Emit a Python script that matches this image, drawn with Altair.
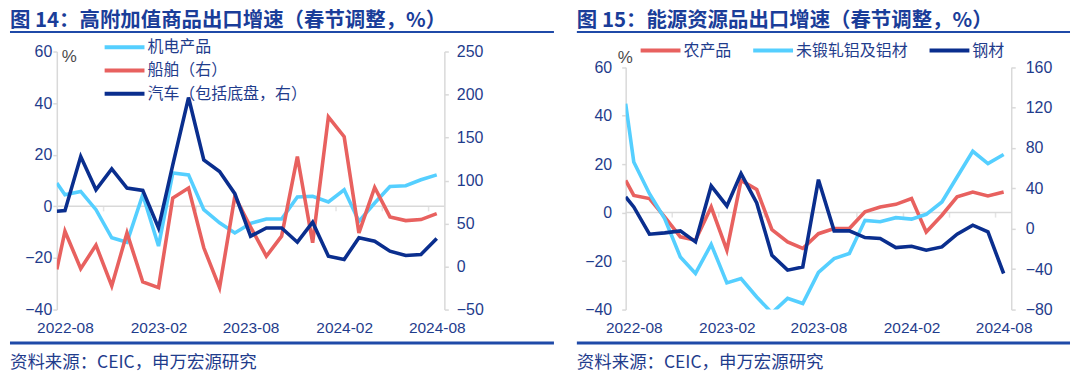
import altair as alt
import pandas as pd

# ---------------- data ----------------
# first entry is the value read at the left edge of the plot (mid-July 2022)
MONTHS = ["2022-07-16T00:00:00"] + pd.date_range("2022-08-01", "2024-08-01", freq="MS").strftime(
    "%Y-%m-%dT00:00:00").tolist()

# Chart 14 (left axis: 机电产品; right axis: 船舶, 汽车)
L_NAMES = ["机电产品", "船舶（右）", "汽车（包括底盘，右）"]
JIDIAN = [9.0, 4.5, 5.8, -1.3, -12.2, -13.9, 4.5, -15.4, 12.9, 12.2, -1.3, -6.4, -10.3,
          -6.6, -4.9, -4.9, 3.6, 3.9, 1.7, 6.4, -5.8, 1.3, 7.7, 8.0, 10.3, 12.2]
CHUANBO = [-3.3, 41.1, -2.5, 24.9, -22.6, 39.1, -17.9, -24.5, 79.6, 91.2, 21.8, -24.5, 81.6,
           46.0, 12.0, 35.3, 127.9, 27.6, 174.0, 151.0, 39.1, 92.0, 57.7, 53.4, 54.6, 61.5]
QICHE = [64.2, 65.0, 127.9, 89.3, 113.6, 91.2, 88.5, 44.9, 118.2, 196.5, 124.0, 110.5, 84.7,
         35.3, 44.9, 44.9, 28.3, 51.5, 12.1, 8.3, 33.4, 29.5, 17.9, 12.9, 14.1, 32.6]

# Chart 15 (left axis: 农产品, 未锻轧铝及铝材; right axis: 钢材)
R_NAMES = ["农产品", "未锻轧铝及铝材", "钢材"]
NONGCHANPIN = [13.3, 7.1, 5.8, -1.8, -10.0, -11.4, 2.3, -15.5, 13.3, 9.5, -7.0, -12.1, -14.8,
               -8.7, -6.6, -6.6, 0.3, 2.3, 3.4, 5.8, -8.0, -1.1, 6.5, 8.5, 6.9, 8.5]
LV = [44.9, 20.9, 7.8, -2.5, -18.3, -25.1, -13.1, -29.0, -27.2, -34.8, -41.4, -35.4, -37.5,
      -24.7, -19.0, -16.9, -3.2, -3.8, -2.1, -2.7, -0.7, 4.4, 14.7, 25.3, 20.2, 24.0]
GANGCAI = [31.5, 21.6, -5.4, -4.1, -2.1, -13.0, 42.4, 22.6, 54.6, 25.6, -26.2, -41.0, -37.8,
           48.6, -2.1, -2.1, -8.7, -9.7, -18.6, -17.3, -21.3, -18.0, -5.4, 3.5, -3.1, -44.3]

TICK_DATES = ["2022-10-16T00:00:00", "2023-01-16T00:00:00", "2023-04-16T00:00:00",
              "2023-07-16T00:00:00", "2023-10-16T00:00:00", "2024-01-16T00:00:00",
              "2024-04-16T00:00:00", "2024-07-16T00:00:00"]
LABEL_DATES = [(2022, 8), (2023, 2), (2023, 8), (2024, 2), (2024, 8)]

TITLE_L = "图 14：高附加值商品出口增速（春节调整，%）"
TITLE_R = "图 15：能源资源品出口增速（春节调整，%）"
SOURCE = "资料来源：CEIC，申万宏源研究"

# ---------------- style ----------------
LB, RED, NAVY = "#55CFFF", "#E8615F", "#0A2E8E"
TXT = "#1F3C8C"
GRAY = "#D9D9D9"
TITLE_C = "#1A3D99"
RULE_C = "#1F4AA8"
CJK = "Noto Sans CJK SC"
LAT = "Liberation Sans"
LW = 3.6
H = 259
W_L, W_R = 389, 387

X_DOMAIN = [alt.DateTime(year=2022, month=7, date=16), alt.DateTime(year=2024, month=8, date=16)]


def xenc():
    return alt.X("date:T",
                 scale=alt.Scale(domain=X_DOMAIN),
                 axis=alt.Axis(values=[alt.DateTime(year=y, month=m, date=1) for y, m in LABEL_DATES],
                               format="%Y-%m", title=None, domain=False, ticks=False, tickSize=0,
                               labelPadding=11, labelFontSize=15.5, labelFont=LAT, labelColor=TXT,
                               labelFlush=False, labelOverlap=False, grid=False))


def series_df(name, vals):
    return pd.DataFrame({"date": MONTHS, "value": vals, "series": name})


def color_enc(names, colors, legend):
    return alt.Color("series:N", scale=alt.Scale(domain=names, range=colors), legend=legend)


def make_legend(x, y, direction, columns, row_pad, col_pad):
    return alt.Legend(orient="none", legendX=x, legendY=y, direction=direction, columns=columns,
                      title=None, symbolType="M-4,0H4", symbolSize=100, symbolStrokeWidth=4,
                      labelFont=CJK, labelFontSize=16, labelColor=TXT, labelOffset=15,
                      rowPadding=row_pad, columnPadding=col_pad, padding=0, symbolOffset=0,
                      labelLimit=300)


def y_axis(orient, values, pad, title=None, tx=0, ty=0):
    kw = dict(orient=orient, values=values, grid=False, domainColor=GRAY, domainWidth=1.5,
              tickColor=GRAY, tickWidth=1.5, tickSize=4, labelPadding=pad, labelFont=LAT,
              labelFontSize=16, labelColor=TXT)
    if title:
        kw.update(title=title, titleAngle=0, titleX=tx, titleY=ty, titleAlign="center",
                  titleBaseline="middle", titleFont=LAT, titleFontSize=17, titleFontWeight="normal",
                  titleColor="#4A4A4A")
    else:
        kw.update(title=None)
    return alt.Axis(**kw)


def line_layer(df, yscale, axis, color):
    return alt.Chart(df).mark_line(strokeWidth=LW, clip=True).encode(
        x=xenc(),
        y=alt.Y("value:Q", scale=yscale, axis=axis),
        color=color,
    )


def zero_and_ticks(yscale, axis):
    zero = alt.Chart(pd.DataFrame({"z": [0]})).mark_rule(color=GRAY, strokeWidth=1.5).encode(
        y=alt.Y("z:Q", scale=yscale, axis=axis))
    ticks = alt.Chart(pd.DataFrame({"date": TICK_DATES, "z": 0})).mark_tick(
        color=GRAY, thickness=1.5, size=5, yOffset=2.5, orient="vertical").encode(
        x=xenc(), y=alt.Y("z:Q", scale=yscale, axis=axis))
    return zero, ticks


def decorations(title, x0, x1):
    one = pd.DataFrame({"t": [title], "s": [SOURCE]})
    ttl = alt.Chart(one).mark_text(align="left", baseline="top", font=CJK, fontSize=20.5,
                                   fontWeight="bold", color=TITLE_C).encode(
        text="t:N", x=alt.value(x0), y=alt.value(-41))
    rule_top = alt.Chart(one).mark_rule(color=RULE_C, strokeWidth=2).encode(
        x=alt.value(x0), x2=alt.value(x1), y=alt.value(-19.5))
    rule_bot = alt.Chart(one).mark_rule(color=RULE_C, strokeWidth=3).encode(
        x=alt.value(x0), x2=alt.value(x1), y=alt.value(292.5))
    src = alt.Chart(one).mark_text(align="left", baseline="middle", font=CJK, fontSize=17.5,
                                   color=TXT).encode(
        text="s:N", x=alt.value(x0), y=alt.value(313))
    return [ttl, rule_top, rule_bot, src]


# ---------------- left panel (图14) ----------------
L_COLORS = [LB, RED, NAVY]
leg_l = make_legend(60, -12.3, "vertical", 1, 7.3, 10)
col_l = color_enc(L_NAMES, L_COLORS, leg_l)

ys_l1 = alt.Scale(domain=[-40, 60], nice=False, zero=False)
ax_l1 = y_axis("left", [-40, -20, 0, 20, 40, 60], 1, "%", 12, 5.5)
ys_l2 = alt.Scale(domain=[-50, 250], nice=False, zero=False)
ax_l2 = y_axis("right", [-50, 0, 50, 100, 150, 200, 250], 8)

z_l, t_l = zero_and_ticks(ys_l1, ax_l1)
left_axis_group = alt.layer(z_l, t_l, line_layer(series_df(L_NAMES[0], JIDIAN), ys_l1, ax_l1, col_l))
right_axis_group = alt.layer(
    line_layer(series_df(L_NAMES[1], CHUANBO), ys_l2, ax_l2, col_l),
    line_layer(series_df(L_NAMES[2], QICHE), ys_l2, ax_l2, col_l),
)
left_panel = alt.layer(left_axis_group, right_axis_group, *decorations(TITLE_L, -47, 499)).resolve_scale(
    y="independent").properties(width=W_L, height=H)

# ---------------- right panel (图15) ----------------
R_COLORS = [RED, LB, NAVY]
leg_r = make_legend(27, -9, "horizontal", 3, 0, 13)
col_r = color_enc(R_NAMES, R_COLORS, leg_r)

ys_r1 = alt.Scale(domain=[-40, 60], nice=False, zero=False, range=[H, 15.7])
ax_r1 = y_axis("left", [-40, -20, 0, 20, 40, 60], 10, "%", -1, 6.5)
ys_r2 = alt.Scale(domain=[-80, 160], nice=False, zero=False, range=[H, 15.7])
ax_r2 = y_axis("right", [-80, -40, 0, 40, 80, 120, 160], 10)

z_r, t_r = zero_and_ticks(ys_r1, ax_r1)
r_left_group = alt.layer(
    z_r, t_r,
    line_layer(series_df(R_NAMES[0], NONGCHANPIN), ys_r1, ax_r1, col_r),
    line_layer(series_df(R_NAMES[1], LV), ys_r1, ax_r1, col_r),
)
r_right_group = alt.layer(line_layer(series_df(R_NAMES[2], GANGCAI), ys_r2, ax_r2, col_r))
right_panel = alt.layer(r_left_group, r_right_group, *decorations(TITLE_R, -49, 446)).resolve_scale(
    y="independent").properties(width=W_R, height=H)

chart = alt.hconcat(left_panel, right_panel, spacing=182, bounds="flush").resolve_scale(
    color="independent", x="independent").properties(
    padding={"top": 2, "left": 0, "right": 0, "bottom": 0}).configure_view(stroke=None)

chart.save("out.html", embed_options={"renderer": "svg", "actions": False})
